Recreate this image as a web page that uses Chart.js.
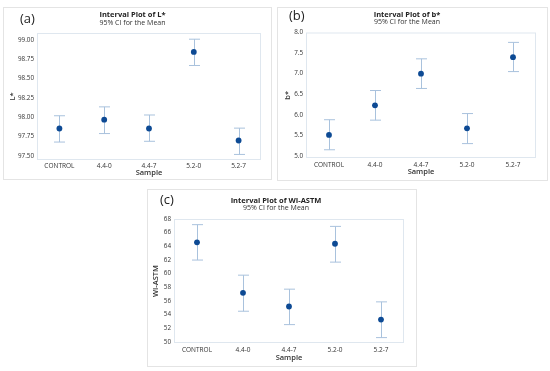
<!DOCTYPE html>
<html>
<head>
<meta charset="utf-8">
<script src="https://cdn.jsdelivr.net/npm/chart.js@4.4.1/dist/chart.umd.min.js"></script>
<style>
  body { margin: 0; background: #fff; width: 550px; height: 371px; position: relative; overflow: hidden; font-family: "Open Sans", sans-serif; }
  .panel { position: absolute; border: 1px solid #e4e4e4; box-sizing: border-box; }
  .panel canvas { position: absolute; left: 0; top: 0; }
  .tag { position: absolute; font-size: 13px; color: #222; }
</style>
</head>
<body>
<div class="panel" style="left:3px;top:7px;width:269px;height:173px"><canvas id="chartA" width="269" height="173"></canvas></div>
<div class="panel" style="left:277px;top:7px;width:271px;height:174px"><canvas id="chartB" width="271" height="174"></canvas></div>
<div class="panel" style="left:147px;top:189px;width:270px;height:178px"><canvas id="chartC" width="270" height="178"></canvas></div>
<span class="tag" style="left:20px;top:9px">(a)</span>
<span class="tag" style="left:289px;top:6px">(b)</span>
<span class="tag" style="left:160px;top:190px">(c)</span>
<script>
// Data
const categories = ['CONTROL', '4.4-0', '4.4-7', '5.2-0', '5.2-7'];

const lMean = [97.855, 97.97, 97.855, 98.845, 97.70];
const lLow  = [97.68, 97.79, 97.69, 98.67, 97.52];
const lHigh = [98.02, 98.135, 98.03, 99.01, 97.86];
const lTicks = [97.50, 97.75, 98.00, 98.25, 98.50, 98.75, 99.00];

const bMean = [5.51, 6.23, 7.00, 5.67, 7.40];
const bLow  = [5.15, 5.87, 6.64, 5.30, 7.05];
const bHigh = [5.88, 6.59, 7.36, 6.03, 7.76];
const bTicks = [5.0, 5.5, 6.0, 6.5, 7.0, 7.5, 8.0];

const wMean = [64.58, 57.19, 55.19, 64.38, 53.28];
const wLow  = [61.99, 54.50, 52.54, 61.69, 50.64];
const wHigh = [67.17, 59.78, 57.73, 66.92, 55.87];
const wTicks = [50, 52, 54, 56, 58, 60, 62, 64, 66, 68];

const pointColor = '#0d4a94';
const barColor = '#a9c2dd';
const fontFamily = '"Open Sans", sans-serif';

// draws the CI whiskers and the plot frame
const intervalPlugin = {
    id: 'intervals',
    beforeDatasetsDraw(chart, args, opts) {
        const { ctx, chartArea } = chart;
        const xs = chart.scales.x;
        const ys = chart.scales.y;
        ctx.save();
        ctx.strokeStyle = '#dfe7ef';
        ctx.lineWidth = 1;
        ctx.strokeRect(chartArea.left + 0.5, chartArea.top + 0.5, chartArea.width - 1, chartArea.height - 1);
        ctx.strokeStyle = barColor;
        opts.low.forEach((lo, i) => {
            const x = Math.round(xs.getPixelForValue(i)) + 0.5;
            const y1 = ys.getPixelForValue(lo);
            const y2 = ys.getPixelForValue(opts.high[i]);
            ctx.beginPath();
            ctx.moveTo(x, y1); ctx.lineTo(x, y2);
            ctx.moveTo(x - 5.5, y1); ctx.lineTo(x + 5.5, y1);
            ctx.moveTo(x - 5.5, y2); ctx.lineTo(x + 5.5, y2);
            ctx.stroke();
        });
        ctx.restore();
    }
};

function makeChart(id, cfg) {
    return new Chart(document.getElementById(id), {
        type: 'line',
        data: {
            labels: categories,
            datasets: [{
                data: cfg.mean,
                showLine: false,
                pointRadius: 2.9,
                pointBackgroundColor: pointColor,
                pointBorderColor: pointColor,
                pointBorderWidth: 0
            }]
        },
        plugins: [intervalPlugin],
        options: {
            responsive: false,
            animation: false,
            layout: { padding: { left: 0, right: cfg.padRight, top: 0, bottom: cfg.padBottom } },
            plugins: {
                legend: { display: false },
                tooltip: { enabled: false },
                intervals: { low: cfg.low, high: cfg.high },
                title: {
                    display: true,
                    text: cfg.title,
                    color: '#222',
                    font: { family: fontFamily, size: 7.5, weight: 'bold', lineHeight: 1 },
                    padding: { top: cfg.titleTop, bottom: 0 }
                },
                subtitle: {
                    display: true,
                    text: '95% CI for the Mean',
                    color: '#333',
                    font: { family: fontFamily, size: 7, lineHeight: 1 },
                    padding: { top: 0, bottom: cfg.subBottom }
                }
            },
            scales: {
                x: {
                    type: 'category',
                    offset: true,
                    grid: { display: false, drawTicks: false },
                    border: { display: false },
                    ticks: { color: '#333', padding: cfg.xTickPad, maxRotation: 0, font: { family: fontFamily, size: 6.5 } },
                    title: { display: true, text: 'Sample', color: '#333', padding: { top: 0, bottom: 0 }, font: { family: fontFamily, size: 7.5, weight: '600', lineHeight: 1.1 } },
                    afterFit: s => { s.height = cfg.xHeight; }
                },
                y: {
                    min: cfg.yMin,
                    max: cfg.yMax,
                    grid: { display: false, drawTicks: false },
                    border: { display: false },
                    afterBuildTicks: s => { s.ticks = cfg.ticks.map(v => ({ value: v })); },
                    ticks: {
                        color: '#333',
                        padding: 3,
                        font: { family: fontFamily, size: 6.3 },
                        callback: v => v.toFixed(cfg.decimals)
                    },
                    title: { display: true, text: cfg.yTitle, color: '#333', padding: { top: cfg.yTitlePad, bottom: 0 }, font: { family: fontFamily, size: 7.5, weight: '600', lineHeight: 1.1 } },
                    afterFit: s => { s.width = cfg.yWidth; }
                }
            }
        }
    });
}

makeChart('chartA', {
    mean: lMean, low: lLow, high: lHigh, ticks: lTicks, decimals: 2,
    yMin: 97.448, yMax: 99.09,
    title: 'Interval Plot of L*', yTitle: 'L*',
    padRight: 12, padBottom: 4, yWidth: 33, xHeight: 17, xTickPad: 2,
    titleTop: 3.5, subBottom: 7, yTitlePad: 5
});

makeChart('chartB', {
    mean: bMean, low: bLow, high: bHigh, ticks: bTicks, decimals: 1,
    yMin: 4.95, yMax: 8.0,
    title: 'Interval Plot of b*', yTitle: 'b*',
    padRight: 13, padBottom: 6, yWidth: 28, xHeight: 18, xTickPad: 3,
    titleTop: 3, subBottom: 7, yTitlePad: 6
});

makeChart('chartC', {
    mean: wMean, low: wLow, high: wHigh, ticks: wTicks, decimals: 0,
    yMin: 49.85, yMax: 68.0,
    title: 'Interval Plot of WI-ASTM', yTitle: 'WI-ASTM',
    padRight: 14, padBottom: 6, yWidth: 26, xHeight: 19, xTickPad: 3,
    titleTop: 7.25, subBottom: 7.25, yTitlePad: 4
});
</script>
</body>
</html>
